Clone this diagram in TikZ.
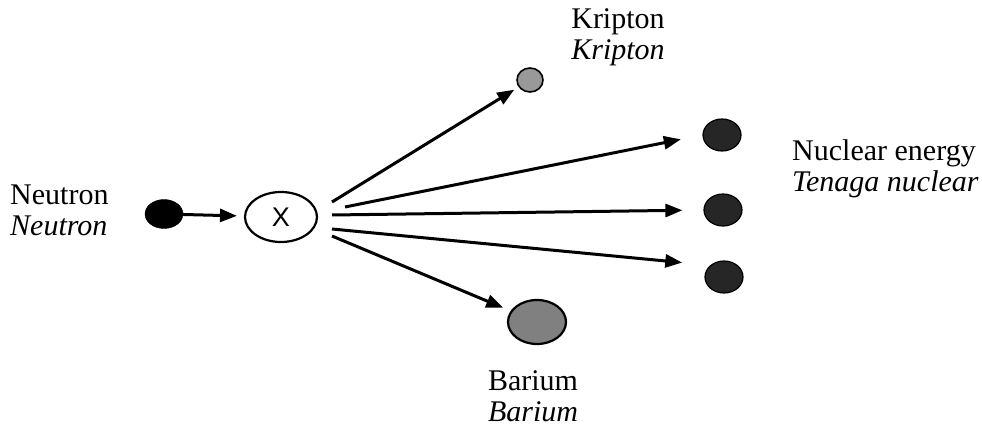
\documentclass[tikz,border=0pt]{standalone}
\usepackage{fontspec}
\setmainfont{Liberation Serif}
\newfontfamily\xfont{Liberation Sans}
\usetikzlibrary{shapes.geometric,arrows.meta}
\tikzset{
  lbl/.style={inner sep=0pt, font=\fontsize{30}{31}\selectfont},
  arr/.style={line width=3pt, -{Triangle[length=17pt,width=13pt]}},
  ball/.style={ellipse, draw=black, inner sep=0pt},
  heavy/.style={ball, fill=black!85, line width=1.2pt, minimum width=38pt, minimum height=32pt},
}
\begin{document}
\begin{tikzpicture}[x=1pt,y=-1pt]
\useasboundingbox (0,0) rectangle (982,427);
% labels
\node[lbl, anchor=west, align=left] (lneu) at (10,210.5) {Neutron\\\textit{Neutron}};
\node[lbl, align=center] (lkr) at (618,37.5) {Kripton\\\textit{Kripton}};
\node[lbl, anchor=west, align=left] (lne) at (792,168.5) {Nuclear energy\\\textit{Tenaga nuclear}};
\node[lbl, align=center] (lba) at (533,396) {Barium\\\textit{Barium}};
% particles
\node[ball, fill=black, minimum width=38pt, minimum height=29pt] (nb) at (164,214) {};
\node[ellipse, draw=black, line width=2.2pt, minimum width=72pt, minimum height=50pt, inner sep=0pt,
      font=\xfont\fontsize{27}{27}\selectfont] (x) at (281,217) {X};
\node[ball, fill=black!40, line width=1.6pt, minimum width=26pt, minimum height=24pt] (kr) at (530,80) {};
\node[heavy] (n1) at (722,135) {};
\node[heavy] (n2) at (723,210) {};
\node[heavy] (n3) at (724,277) {};
\node[ball, fill=black!50, line width=2.2pt, minimum width=58pt, minimum height=44pt] (ba) at (537,322) {};
% start points of the fission products
\coordinate (s1) at (332,202);
\coordinate (s2) at (345,207);
\coordinate (s3) at (332,215);
\coordinate (s4) at (332,229);
\coordinate (s5) at (332,236);
% arrows
\draw[arr, shorten >=7pt] (nb) -- (x);
\draw[arr, shorten >=5pt] (s1) -- (kr);
\draw[arr, shorten >=22pt] (s2) -- (n1.west);
\draw[arr, shorten >=21pt] (s3) -- (n2.west);
\draw[arr, shorten >=28pt] (s4) -- (n3.north west);
\draw[arr, shorten >=8pt] (s5) -- (ba);
\end{tikzpicture}
\end{document}
